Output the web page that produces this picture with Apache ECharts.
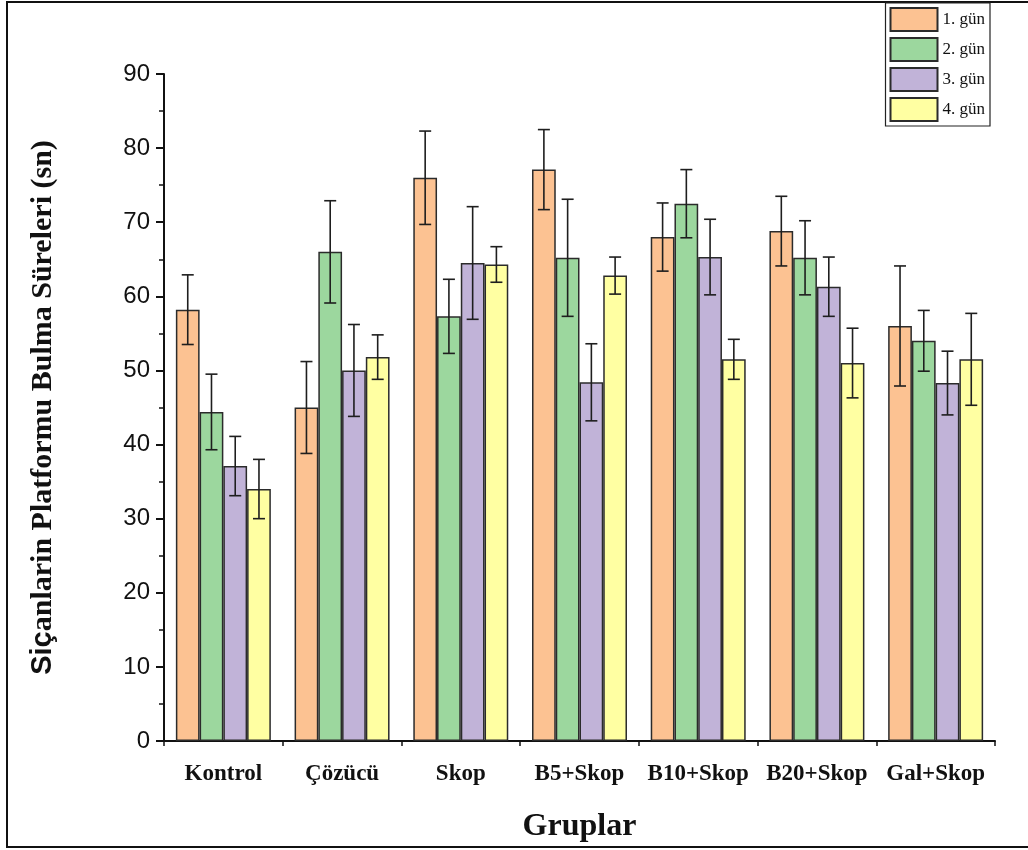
<!DOCTYPE html>
<html>
<head>
<meta charset="utf-8">
<script src="https://cdn.jsdelivr.net/npm/echarts@6/dist/echarts.min.js"></script>
<style>
html,body{margin:0;padding:0;background:#fff;}
#chart{width:1028px;height:850px;}
</style>
</head>
<body>
<div id="chart"></div>
<script>
var groups=['Kontrol','Çözücü','Skop','B5+Skop','B10+Skop','B20+Skop','Gal+Skop'];
var days=['1. gün','2. gün','3. gün','4. gün'];
var colors=['#FCC292','#9CD79E','#C1B3D8','#FFFFA2'];

var day1=[58.2,45.0,76.0,77.1,68.0,68.8,56.0];
var day2=[44.4,66.0,57.3,65.2,72.5,65.2,54.0];
var day3=[37.1,50.0,64.5,48.4,65.3,61.3,48.3];
var day4=[34.0,51.8,64.3,62.8,51.5,51.0,51.5];

var err1=[4.7,6.2,6.3,5.4,4.6,4.7,8.1];
var err2=[5.1,6.9,5.0,7.9,4.6,5.0,4.1];
var err3=[4.0,6.2,7.6,5.2,5.1,4.0,4.3];
var err4=[4.0,3.0,2.4,2.5,2.7,4.7,6.2];

var values=[day1,day2,day3,day4];
var errors=[err1,err2,err3,err4];

var yTicks=[0,10,20,30,40,50,60,70,80,90];

var chart=echarts.init(document.getElementById('chart'));

var series=[];
for(var i=0;i<4;i++){
  series.push({
    name:days[i],
    type:'bar',
    xAxisIndex:0,
    barGap:'0%',
    barCategoryGap:'20%',
    data:values[i],
    itemStyle:{color:colors[i],borderColor:'#2b2b2b',borderWidth:1.5},
    emphasis:{disabled:true}
  });
}

// error bars drawn over each bar
function errorSeries(k){
  var d=[];
  for(var j=0;j<groups.length;j++){
    d.push([j,values[k][j]-errors[k][j],values[k][j]+errors[k][j]]);
  }
  return {
    type:'custom',
    xAxisIndex:0,
    z:5,
    silent:true,
    data:d,
    renderItem:function(params,api){
      var cat=api.value(0);
      var lo=api.coord([cat,api.value(1)]);
      var hi=api.coord([cat,api.value(2)]);
      var catW=api.size([1,0])[0];
      var bw=catW*0.8/4;
      var x=lo[0]+(k-1.5)*bw;
      var cap=6;
      var st={stroke:'#1e1e1e',lineWidth:1.6};
      return {type:'group',children:[
        {type:'line',shape:{x1:x,y1:lo[1],x2:x,y2:hi[1]},style:st},
        {type:'line',shape:{x1:x-cap,y1:hi[1],x2:x+cap,y2:hi[1]},style:st},
        {type:'line',shape:{x1:x-cap,y1:lo[1],x2:x+cap,y2:lo[1]},style:st}
      ]};
    }
  };
}
for(var k=0;k<4;k++) series.push(errorSeries(k));

chart.setOption({
  animation:false,
  backgroundColor:'#fff',
  grid:{left:164,right:33,top:74,bottom:109},
  legend:{
    data:days,
    icon:'rect',
    orient:'vertical',
    right:38,
    top:3,
    itemWidth:47,
    itemHeight:23,
    itemGap:5,
    padding:[4,5,4,4],
    borderColor:'#222',
    borderWidth:1.2,
    backgroundColor:'#fff',
    textStyle:{fontFamily:'Liberation Serif',fontSize:17,color:'#111'}
  },
  graphic:[{
    type:'rect',
    shape:{x:7,y:2,width:1030,height:845},
    style:{fill:'none',stroke:'#111',lineWidth:2},
    silent:true,z:-1
  }],
  xAxis:[{
    type:'category',
    data:groups,
    name:'Gruplar',
    nameLocation:'middle',
    nameGap:70,
    nameTextStyle:{fontFamily:'Liberation Serif',fontWeight:'bold',fontSize:32,color:'#111'},
    axisLine:{lineStyle:{color:'#111',width:2}},
    axisTick:{alignWithLabel:true,length:9,lineStyle:{color:'#111',width:2}},
    axisLabel:{interval:0,margin:22,fontFamily:'Liberation Serif',fontWeight:'bold',fontSize:23,color:'#111'}
  },{
    type:'category',
    data:groups,
    position:'bottom',
    axisLine:{show:false},
    axisTick:{show:true,length:5,lineStyle:{color:'#111',width:1.5}},
    axisLabel:{show:false}
  }],
  yAxis:{
    type:'value',
    min:yTicks[0],
    max:yTicks[yTicks.length-1],
    interval:10,
    name:'{a|Siç}{b|anlarin Platformu Bulma Süreleri (sn)}',
    nameLocation:'middle',
    nameGap:106,
    nameTextStyle:{
      rich:{
        a:{fontFamily:'Liberation Sans',fontWeight:'bold',fontSize:29,color:'#111'},
        b:{fontFamily:'Liberation Serif',fontWeight:'bold',fontSize:30,color:'#111'}
      }
    },
    axisLine:{show:true,lineStyle:{color:'#111',width:2}},
    axisTick:{show:true,length:8,lineStyle:{color:'#111',width:2}},
    minorTick:{show:true,splitNumber:2,length:5,lineStyle:{color:'#111',width:1.5}},
    splitLine:{show:false},
    axisLabel:{margin:14,fontFamily:'Liberation Sans',fontSize:24,color:'#111'}
  },
  series:series
});
</script>
</body>
</html>
